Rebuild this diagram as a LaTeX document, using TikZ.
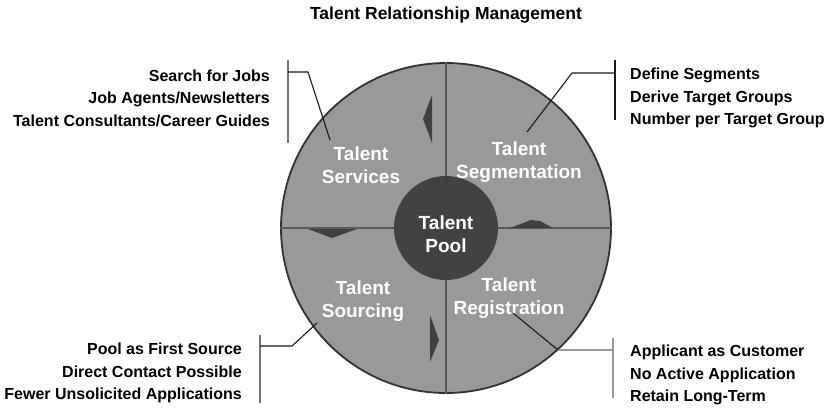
\documentclass[tikz,border=0pt]{standalone}
\usepackage{fontspec}
\setmainfont{Liberation Sans}

\tikzset{
  sektortext/.style={text=white, font=\fontsize{19}{23}\selectfont\bfseries, align=center, inner sep=0pt},
  listentext/.style={font=\fontsize{16}{22.5}\selectfont\bfseries, inner sep=0pt},
  klammer/.style={line width=1.3pt, draw=black!55},
  zeiger/.style={line width=1.1pt, draw=black!90},
  trenner/.style={line width=1.8pt, draw=black!65},
  spitze/.style={fill=black!75, draw=none},
}

\begin{document}
\begin{tikzpicture}[x=1pt,y=-1pt] % 1 Einheit = 1 Pixel, y nach unten
\useasboundingbox (0,0) rectangle (829,408);

%UEBERSCHRIFT
\node[font=\fontsize{17.5}{20}\selectfont\bfseries] (titel) at (446,15) {Talent Relationship Management};

%GROSSER KREIS UND POOL IN DER MITTE
\node[circle, minimum size=330pt, fill=black!40, draw=black!80, line width=1.8pt] (rad) at (446,228) {};
\node[circle, minimum size=104pt, fill=black!74, inner sep=0pt] (pool) at (446,228) {};
\node[sektortext] (pooltext) at (446,234) {Talent\\Pool};

%TRENNLINIEN
\draw[trenner] (rad.north) -- (pool.north);
\draw[trenner] (pool.south) -- (rad.south);
\draw[trenner] (rad.west) -- (pool.west);
\draw[trenner] (pool.east) -- (rad.east);

%RICHTUNGSSPITZEN (gegen den Uhrzeigersinn)
\fill[spitze] (432,95) -- (423,119) -- (432,143) -- cycle;
\fill[spitze] (357,229) -- (332,238) -- (308,229) -- cycle;
\fill[spitze] (430,315) -- (439,340) -- (430,362) -- cycle;
\fill[spitze] (510,228) -- (531,220) -- (540,221) -- (553,228) -- cycle;

%SEKTOREN
\node[sektortext] (services) at (361,165) {Talent\\Services};
\node[sektortext] (segment) at (519,162) {Talent\\Segmentation};
\node[sektortext] (sourcing) at (363,301) {Talent\\Sourcing};
\node[sektortext] (regist) at (509,298) {Talent\\Registration};

%SEKTOR OBEN LINKS
\node[listentext, anchor=east, align=right] (svcliste) at (270,98) {Search for Jobs\\Job Agents/Newsletters\\Talent Consultants/Career Guides};
\coordinate (svcA) at (288,60);
\coordinate (svcB) at (288,143);
\coordinate (svcH) at (288,72);
\coordinate (svcK) at (308,72);
\coordinate (svcZ) at (330,140);
\draw[klammer] (svcA) -- (svcB);
\draw[zeiger] (svcH) -- (svcK) -- (svcZ);

%SEKTOR OBEN RECHTS
\node[listentext, anchor=west, align=left] (segliste) at (630,98) {Define Segments\\Derive Target Groups\\Number per Target Group};
\coordinate (segA) at (615,60);
\coordinate (segB) at (615,120);
\coordinate (segH) at (615,73);
\coordinate (segK) at (572,73);
\coordinate (segZ) at (527,132);
\draw[zeiger] (segA) -- (segB);
\draw[zeiger] (segH) -- (segK) -- (segZ);

%SEKTOR UNTEN LINKS
\node[listentext, anchor=east, align=right] (srcliste) at (242,373) {Pool as First Source\\Direct Contact Possible\\Fewer Unsolicited Applications};
\coordinate (srcA) at (260,335);
\coordinate (srcB) at (260,403);
\coordinate (srcH) at (260,346);
\coordinate (srcK) at (292,346);
\coordinate (srcZ) at (317,323);
\draw[klammer] (srcA) -- (srcB);
\draw[zeiger] (srcH) -- (srcK) -- (srcZ);

%SEKTOR UNTEN RECHTS
\node[listentext, anchor=west, align=left] (regliste) at (630,375) {Applicant as Customer\\No Active Application\\Retain Long-Term};
\coordinate (regA) at (613,338);
\coordinate (regB) at (613,398);
\coordinate (regH) at (613,350);
\coordinate (regK) at (558,350);
\coordinate (regZ) at (513,313);
\draw[klammer, draw=black!40] (regA) -- (regB);
\draw[klammer, draw=black!40] (regH) -- (regK);
\draw[zeiger] (regK) -- (regZ);

\end{tikzpicture}
\end{document}
